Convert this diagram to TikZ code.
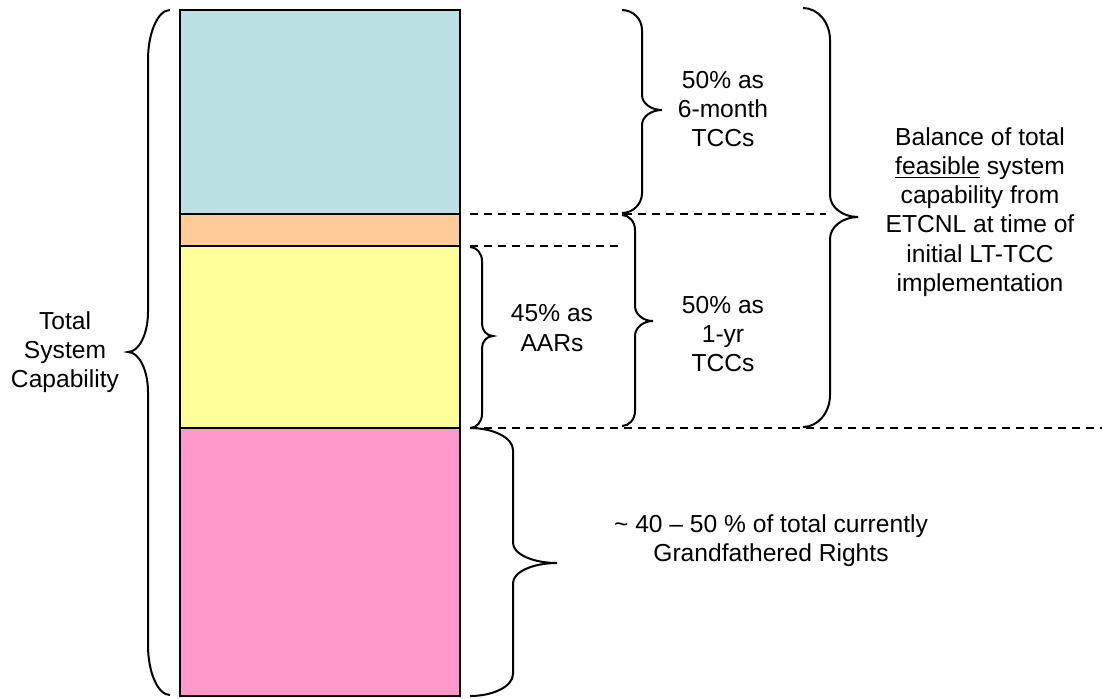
\documentclass[tikz,border=0pt]{standalone}
\usepackage{fontspec}
\setmainfont{Liberation Sans}
\definecolor{capblue}{HTML}{BBE0E3}
\definecolor{caporange}{HTML}{FFCC99}
\definecolor{capyellow}{HTML}{FFFF99}
\definecolor{cappink}{HTML}{FF99CC}
% curly brace: end x, spine x, tip x, top y, tip y, bottom y, end curl height, tip curl height
\newcommand{\curlybrace}[8]{%
  \draw[bracestroke] (#1,#4)
    .. controls ({#1+0.55*(#2-#1)},#4) and (#2,{#4+0.45*#7}) .. (#2,{#4+#7})
    -- (#2,{#5-#8})
    .. controls (#2,{#5-0.45*#8}) and ({#3-0.55*(#3-#2)},#5) .. (#3,#5)
    .. controls ({#3-0.55*(#3-#2)},#5) and (#2,{#5+0.45*#8}) .. (#2,{#5+#8})
    -- (#2,{#6-#7})
    .. controls (#2,{#6-0.45*#7}) and ({#1+0.55*(#2-#1)},#6) .. (#1,#6);}
\begin{document}
\begin{tikzpicture}[x=0.5pt,y=-0.5pt,
  segment/.style={draw=black,line width=1pt},
  bracestroke/.style={draw=black,line width=1pt},
  divider/.style={draw=black,line width=1pt,dash pattern=on 4pt off 3pt},
  label/.style={align=center,inner sep=0pt,font=\fontsize{12.3}{14.6}\selectfont}]
\useasboundingbox (0,0) rectangle (1102,698);

% stacked capability bar
\filldraw[segment,fill=capblue]   (180,10)  rectangle (460,214);
\filldraw[segment,fill=caporange] (180,214) rectangle (460,246);
\filldraw[segment,fill=capyellow] (180,246) rectangle (460,428);
\filldraw[segment,fill=cappink]   (180,428) rectangle (460,695.5);

% dashed level markers
\coordinate (d1a) at (470,214);  \coordinate (d1b) at (826,214);
\coordinate (d2a) at (470,246);  \coordinate (d2b) at (618,246);
\coordinate (d3a) at (470,428);  \coordinate (d3b) at (1102,428);
\draw[divider] (d1a) -- (d1b);
\draw[divider] (d2a) -- (d2b);
\draw[divider] (d3a) -- (d3b);

% braces
\curlybrace{170}{148}{128}{10}{352}{695}{50}{40}
\curlybrace{622}{642}{662}{10}{110}{213}{20}{15}
\curlybrace{622}{635}{653}{215}{321}{426}{15}{15}
\curlybrace{470}{482}{493}{247}{336}{428}{14}{12}
\curlybrace{470}{513}{557}{428}{563}{696}{22}{20}
\curlybrace{803}{830}{858}{8}{217}{427}{32}{22}

% labels
\node[label] (total) at (65,352) {Total\\System\\Capability};
\node[label] (six)   at (723,109) {50\% as\\6-month\\TCCs};
\node[label] (year)  at (723,334) {50\% as\\1-yr\\TCCs};
\node[label] (aar)   at (552,328) {45\% as\\AARs};
\node[label] (bal)   at (980,212) {Balance of total\\\underline{feasible} system\\capability from\\ETCNL at time of\\initial LT-TCC\\implementation};
\node[label] (gf)    at (771,541) {\textasciitilde{} 40 – 50 \% of total currently\\Grandfathered Rights};
\end{tikzpicture}
\end{document}
